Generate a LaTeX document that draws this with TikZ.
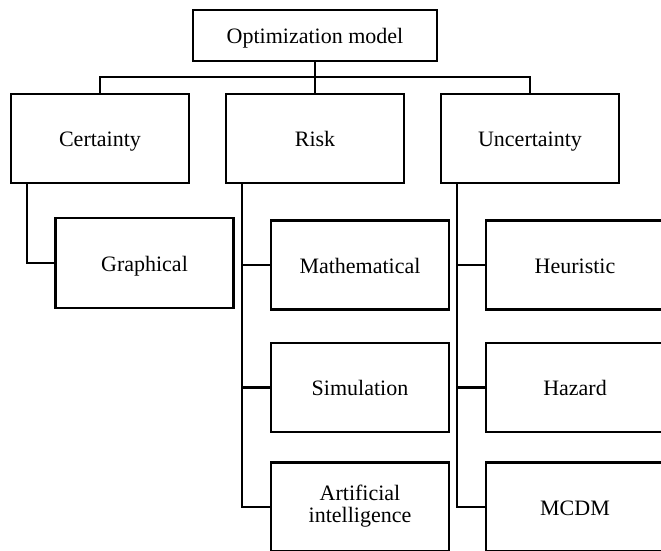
\documentclass[tikz,border=0pt]{standalone}
\usepackage{fontspec}
\setmainfont{Liberation Serif}
\usepackage{tikz}

\begin{document}
\begin{tikzpicture}[x=1pt,y=-1pt,
	caja/.style={draw, line width=2.2pt, minimum width=178pt, minimum height=89pt,
		inner sep=0pt, align=center, font=\fontsize{22}{22}\selectfont},
	linea/.style={line width=2.2pt},
	una/.style={caja, text height=20pt, text depth=4pt}]
	\useasboundingbox (0,0) rectangle (661,551);

	% Dibujar las cajas
	\node[una, minimum width=244pt, minimum height=51pt] (opt) at (315,35.5) {Optimization model};
	\node[una] (cert) at (100,138.5) {Certainty};
	\node[una] (risk) at (315,138.5) {Risk};
	\node[una] (unc) at (530,138.5) {Uncertainty};

	\node[una, minimum height=90pt] (graf) at (144.5,263) {Graphical};
	\node[una] (mat) at (360,265) {Mathematical};
	\node[una] (sim) at (360,387.5) {Simulation};
	\node[caja] (ia) at (360,507) {\raisebox{-5pt}{\begin{tabular}{@{}c@{}}Artificial\\intelligence\end{tabular}}};
	\node[una] (heu) at (575,265) {Heuristic};
	\node[una] (haz) at (575,387.5) {Hazard};
	\node[una] (mcdm) at (575,507) {MCDM};

	% Dibujar las lineas
	\draw[linea] (opt.south) -- ++(0,15) -| (cert.north);
	\draw[linea] (opt.south) -- (risk.north);
	\draw[linea] (opt.south) -- ++(0,15) -| (unc.north);

	\draw[linea] ([xshift=17pt]cert.south west) |- (graf.west);
	\draw[linea] ([xshift=17pt]risk.south west) |- (mat.west);
	\draw[linea] ([xshift=17pt]risk.south west) |- (sim.west);
	\draw[linea] ([xshift=17pt]risk.south west) |- (ia.west);
	\draw[linea] ([xshift=17pt]unc.south west) |- (heu.west);
	\draw[linea] ([xshift=17pt]unc.south west) |- (haz.west);
	\draw[linea] ([xshift=17pt]unc.south west) |- (mcdm.west);
\end{tikzpicture}
\end{document}
